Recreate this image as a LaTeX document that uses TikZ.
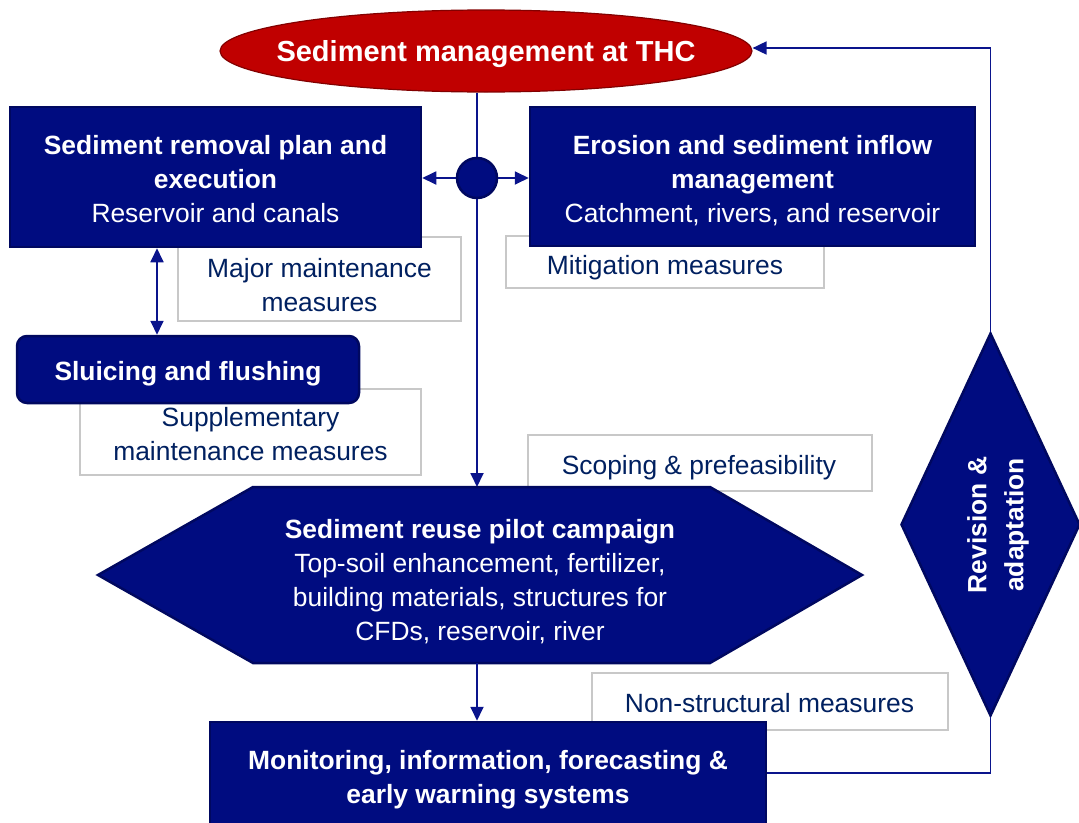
\documentclass[tikz,border=0pt]{standalone}
\usepackage{fontspec}
\setmainfont{Liberation Sans}
\usetikzlibrary{arrows.meta,shapes.geometric}
\definecolor{navyfill}{RGB}{0,12,128}
\definecolor{navyedge}{RGB}{0,8,96}
\definecolor{linecol}{RGB}{10,20,140}
\definecolor{redfill}{RGB}{192,0,0}
\definecolor{rededge}{RGB}{130,0,0}
\definecolor{labelcol}{RGB}{0,32,96}
\definecolor{graybd}{RGB}{200,200,200}
\begin{document}
\begin{tikzpicture}[x=1pt,y=-1pt,
  navybox/.style={rectangle, fill=navyfill, draw=navyedge, line width=2.5pt, inner sep=0pt},
  graybox/.style={rectangle, fill=white, draw=graybd, line width=1.2pt, inner sep=0pt},
  labeltext/.style={text=labelcol, align=center, font=\fontsize{26.4}{34}\selectfont, inner sep=0pt},
  conn/.style={draw=linecol, line width=1.8pt},
  arr/.style={conn, -{Triangle[length=14pt,width=13pt]}},
  darr/.style={conn, {Triangle[length=14pt,width=13pt]}-{Triangle[length=14pt,width=13pt]}},
  whitetext/.style={text=white, align=center, inner sep=0pt, font=\fontsize{26.4}{34}\selectfont}
]
\useasboundingbox (0,0) rectangle (1079,822);

% gray label boxes (behind)
\node[graybox, minimum width=283, minimum height=84] (mjb) at (319.5,279) {};
\node[labeltext] (mj) at (319.5,285) {Major maintenance\\measures};
\node[graybox, minimum width=318, minimum height=52] (mib) at (665,262) {};
\node[labeltext] (mi) at (665,268) {Mitigation measures};
\node[graybox, minimum width=341, minimum height=86] (sub) at (250.5,432) {};
\node[labeltext] (su) at (250.5,434) {Supplementary\\maintenance measures};
\node[graybox, minimum width=344, minimum height=56] (scb) at (700,463) {};
\node[labeltext] (sc) at (699,468) {Scoping \& prefeasibility};
\node[graybox, minimum width=356, minimum height=57] (nsb) at (770,701.5) {};
\node[labeltext] (ns) at (769.5,703.5) {Non-structural measures};

% top ellipse
\node[ellipse, fill=redfill, draw=rededge, line width=1.2pt, minimum width=532, minimum height=82, inner sep=0pt] (top) at (486,51) {};
\node[text=white, inner sep=0pt, font=\fontsize{29}{35}\selectfont\bfseries, yshift=-3pt] (toptext) at (top) {Sediment management at THC};

% junction circle
\node[circle, fill=navyfill, draw=navyedge, line width=2.5pt, minimum size=40, inner sep=0pt] (circ) at (477,178) {};

% connectors
\coordinate (hextop) at (477,487);
\coordinate (hexbot) at (477,663);
\coordinate (da) at (157,0);
\coordinate (fb) at (990.5,773);
\draw[conn] (circ.north |- top.south) -- (circ.north);
\draw[arr] (circ.south) -- (hextop);

% navy boxes
\node[navybox, minimum width=411, minimum height=140] (box1) at (215.5,177) {};
\node[whitetext, yshift=-2pt] (box1t) at (box1)
  {\textbf{Sediment removal plan and}\\\textbf{execution}\\Reservoir and canals};
\node[navybox, minimum width=445, minimum height=139] (box2) at (752.5,176.5) {};
\node[whitetext, yshift=-4.5pt] (box2t) at (box2)
  {\textbf{Erosion and sediment inflow}\\\textbf{management}\\Catchment, rivers, and reservoir};
\node[navybox, rounded corners=10pt, minimum width=342, minimum height=67] (sl) at (188,369.5) {};
\node[whitetext, yshift=-4.5pt] (slt) at (sl) {\textbf{Sluicing and flushing}};
\node[navybox, minimum width=556, minimum height=110] (mon) at (488,777) {};
\node[whitetext, yshift=-3pt] (mont) at (mon)
  {\textbf{Monitoring, information, forecasting \&}\\\textbf{early warning systems}};

% hexagon
\path[fill=navyfill, draw=navyedge, line width=2.5pt] (98,575) -- (253,487) -- (710,487) -- (862,575) -- (710,663) -- (253,663) -- cycle;
\node[whitetext] (hex) at (480,582) {\textbf{Sediment reuse pilot campaign}\\Top-soil enhancement, fertilizer,\\building materials, structures for\\CFDs, reservoir, river};

% diamond
\node[diamond, fill=navyfill, draw=navyedge, line width=2.5pt, minimum width=179, minimum height=383, inner sep=0pt] (dia) at (990.5,524.5) {};
\node[whitetext, rotate=90, font=\fontsize{26.4}{37}\selectfont\bfseries] (diatext) at (998,525) {Revision \&\\adaptation};

% remaining connectors
\draw[arr] (circ.west) -- (circ.west -| box1.east);
\draw[arr] (circ.east) -- (circ.east -| box2.west);
\draw[darr] (da |- box1.south) -- (da |- sl.north);
\draw[arr] (hexbot) -- (hexbot |- mon.north);
\draw[conn] (fb -| mon.east) -- (fb) -- (dia.south);
\draw[arr] (dia.north) -- (dia.north |- 0,48) -- (top.east |- 0,48);
\end{tikzpicture}
\end{document}
